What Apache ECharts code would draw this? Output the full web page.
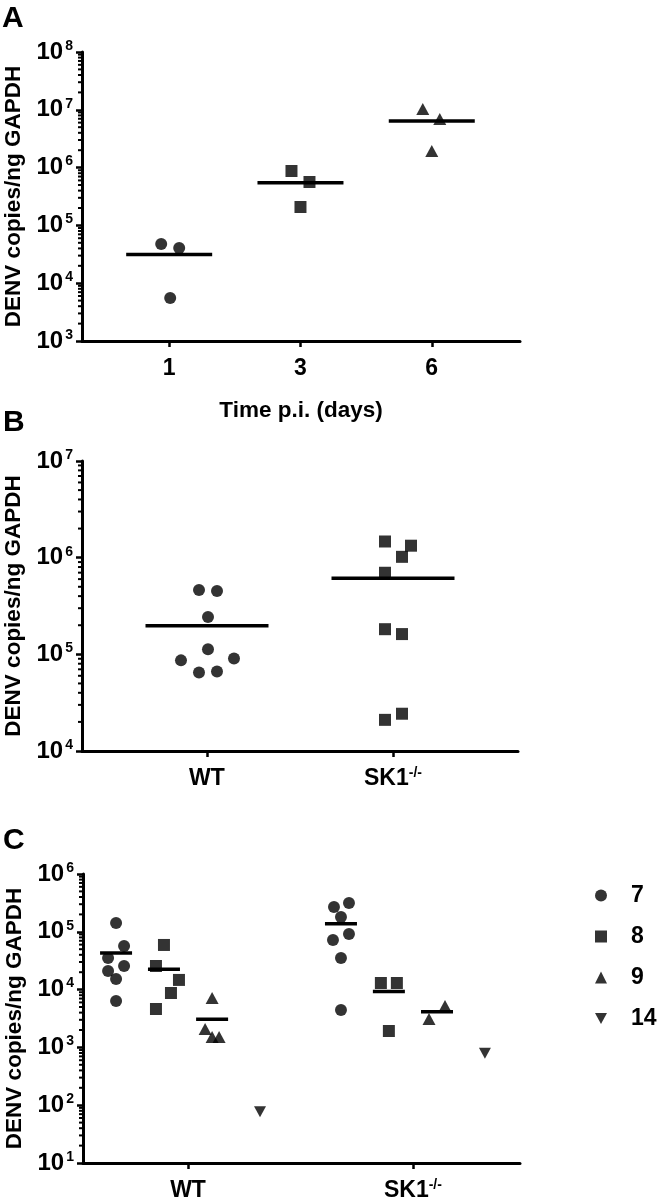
<!DOCTYPE html>
<html><head><meta charset="utf-8">
<script src="https://cdn.jsdelivr.net/npm/echarts@6/dist/echarts.min.js"></script>
<style>html,body{margin:0;padding:0;background:#fff}#c{width:660px;height:1200px}</style>
</head><body><div id="c"></div><script>
const FONT = '"Liberation Sans", Arial, sans-serif';

// ---------- Panel A: Time p.i. (days) ----------
const aCategories = ['1', '3', '6'];
const aDay1 = [47700, 40600, 5550];
const aDay3 = [873000, 564000, 208000];
const aDay6 = [10300000, 6940000, 1940000];

// ---------- Panel B: WT vs SK1-/- ----------
const bCategories = ['WT', 'SK1'];
const bWT = [464000, 453000, 243000, 113000, 86600, 90800, 64900, 66500];
const bSK1 = [1470000, 1330000, 1020000, 698000, 182000, 162000, 21000, 24300];

// ---------- Panel C: by day (7, 8, 9, 14) ----------
const cCategories = ['WT', 'SK1'];
const cDays = ['7', '8', '9', '14'];
const cWT7 = [142000, 56800, 35200, 25600, 21000, 15200, 6350];
const cWT8 = [59200, 25600, 14700, 8730, 4620];
const cWT9 = [7160, 2080, 1510, 1510];
const cWT14 = [77];
const cSK7 = [269000, 315000, 180000, 72100, 91600, 35200, 4440];
const cSK8 = [13000, 13000, 1920];
const cSK9 = [3100, 5200];
const cSK14 = [791];

// horizontal scatter (jitter) of individual points, in pixels
const jitA1 = [-8, 10, 1], jitA3 = [-9, 9, 0], jitA6 = [-9, 8, 0];
const jitBWT = [-8, 10, 1, 1, -26, 27, -8, 10];
const jitBSK = [-8, 18, 9, -8, -8, 9, -8, 9];
const jitCWT7 = [0, 8, -8, 8, -8, 0, 0];
const jitCWT8 = [0, -8, 15, 7, -8];
const jitCWT9 = [0, -7, 0, 7];
const jitCWT14 = [0];
const jitCSK7 = [-7, 8, 0, -8, 8, 0, 0];
const jitCSK8 = [-8, 8, 0];
const jitCSK9 = [-8, 8];
const jitCSK14 = [0];

const DOWN = 'path://M0,0L10,0L5,9Z';
const mean = a => a.reduce((s, v) => s + v, 0) / a.length;
const pts = (x, vals, jit) => vals.map((v, i) => ({ value: [x, v], symbolOffset: [jit[i], 0] }));

function yAxisFor(gi, min, max, split) {
  return {
    type: 'log', logBase: 10, gridIndex: gi, min: min, max: max, splitNumber: split,
    name: 'DENV copies/ng GAPDH', nameLocation: 'middle', nameGap: 52,
    nameTextStyle: { fontFamily: FONT, fontWeight: 'bold', fontSize: 22.5, color: '#000' },
    axisLine: { show: true, onZero: false, lineStyle: { color: '#000', width: 3 } },
    axisTick: { show: true, length: 6, lineStyle: { color: '#000', width: 2.5 } },
    splitLine: { show: false },
    axisLabel: {
      margin: 9,
      formatter: v => '{b|10}{s|' + Math.round(Math.log10(v)) + '}',
      rich: {
        b: { fontFamily: FONT, fontWeight: 'bold', fontSize: 24, color: '#000', lineHeight: 26 },
        s: { fontFamily: FONT, fontWeight: 'bold', fontSize: 14, color: '#000', verticalAlign: 'top', lineHeight: 15, padding: [0, 0, 0, 2] }
      }
    }
  };
}
function xAxisFor(gi, min, max, labels, extra) {
  return Object.assign({
    type: 'value', gridIndex: gi, min: min, max: max,
    axisLine: { show: true, onZero: false, lineStyle: { color: '#000', width: 3 } },
    axisTick: { show: true, length: 6, customValues: labels.map((_, i) => i), lineStyle: { color: '#000', width: 2.5 } },
    splitLine: { show: false },
    axisLabel: {
      margin: 15, customValues: labels.map((_, i) => i),
      formatter: v => {
        const l = labels[Math.round(v)];
        return l === 'SK1' ? '{b|SK1}{s|-/-}' : '{b|' + l + '}';
      },
      rich: {
        b: { fontFamily: FONT, fontWeight: 'bold', fontSize: 23, color: '#000', lineHeight: 26 },
        s: { fontFamily: FONT, fontWeight: 'bold', fontSize: 14, color: '#000', verticalAlign: 'top', lineHeight: 14 }
      }
    }
  }, extra || {});
}
function minorTickSeries(xi, yi, xMin, lowExp, highExp) {
  const data = [];
  for (let e = lowExp; e < highExp; e++) for (let m = 2; m <= 9; m++) data.push([xMin, m * Math.pow(10, e)]);
  return {
    type: 'custom', xAxisIndex: xi, yAxisIndex: yi, silent: true, clip: false, z: 5,
    data: data,
    renderItem: (params, api) => {
      const p = api.coord([api.value(0), api.value(1)]);
      return { type: 'line', shape: { x1: p[0] - 4, y1: p[1], x2: p[0], y2: p[1] }, style: { stroke: '#000', lineWidth: 2 } };
    }
  };
}
function meanLine(x, vals, w) {
  if (vals.length < 2) return [];
  return [{ value: [x, mean(vals)], symbolSize: [w, 3.5] }];
}
function scatter(name, xi, yi, symbol, size, data) {
  return { name: name, type: 'scatter', xAxisIndex: xi, yAxisIndex: yi, symbol: symbol, symbolSize: size,
    itemStyle: { color: '#000' }, data: data, z: 3, emphasis: { disabled: true } };
}
function meanSeries(xi, yi, data) {
  return { type: 'scatter', xAxisIndex: xi, yAxisIndex: yi, symbol: 'rect', itemStyle: { color: '#000', opacity: 1 },
    data: data, z: 4, silent: true };
}

// x offsets of the four day-groups within each panel-C category
const cGroupOff = [-0.32, -0.107, 0.107, 0.32];

const option = {
  animation: false,
  backgroundColor: '#fff',
  textStyle: { fontFamily: FONT },
  graphic: [
    { type: 'text', left: 2, top: 4, style: { text: 'A', font: 'bold 30px ' + FONT, fill: '#000' } },
    { type: 'text', left: 3, top: 408, style: { text: 'B', font: 'bold 30px ' + FONT, fill: '#000' } },
    { type: 'text', left: 3, top: 826, style: { text: 'C', font: 'bold 30px ' + FONT, fill: '#000' } }
  ],
  grid: [
    { left: 82, top: 52, width: 438, height: 289, outerBoundsMode: 'none', containLabel: false },
    { left: 82, top: 461, width: 436, height: 290, outerBoundsMode: 'none', containLabel: false },
    { left: 83, top: 874, width: 437, height: 289, outerBoundsMode: 'none', containLabel: false }
  ],
  xAxis: [
    xAxisFor(0, -0.664, 2.672, aCategories, {
      name: 'Time p.i. (days)', nameLocation: 'middle', nameGap: 58,
      nameTextStyle: { fontFamily: FONT, fontWeight: 'bold', fontSize: 22.5, color: '#000' }
    }),
    xAxisFor(1, -0.672, 1.672, bCategories),
    xAxisFor(2, -0.467, 1.476, cCategories)
  ],
  yAxis: [
    yAxisFor(0, 1e3, 1e8, 5),
    yAxisFor(1, 1e4, 1e7, 3),
    yAxisFor(2, 1e1, 1e6, 5)
  ],
  legend: {
    data: cDays, orient: 'vertical', left: 590, top: 878, itemWidth: 12, itemHeight: 12, itemGap: 16,
    selectedMode: false,
    textStyle: { fontFamily: FONT, fontWeight: 'bold', fontSize: 23, color: '#000', lineHeight: 25, padding: [0, 0, 0, 19] }
  },
  series: [
    minorTickSeries(0, 0, -0.664, 3, 8),
    minorTickSeries(1, 1, -0.672, 4, 7),
    minorTickSeries(2, 2, -0.467, 1, 6),
    // Panel A
    scatter('A1', 0, 0, 'circle', 12, pts(0, aDay1, jitA1)),
    scatter('A3', 0, 0, 'rect', 12, pts(1, aDay3, jitA3)),
    scatter('A6', 0, 0, 'triangle', [13, 12], pts(2, aDay6, jitA6)),
    meanSeries(0, 0, [].concat(meanLine(0, aDay1, 86), meanLine(1, aDay3, 86), meanLine(2, aDay6, 86))),
    // Panel B
    scatter('BWT', 1, 1, 'circle', 12, pts(0, bWT, jitBWT)),
    scatter('BSK', 1, 1, 'rect', 12, pts(1, bSK1, jitBSK)),
    meanSeries(1, 1, [].concat(meanLine(0, bWT, 123), meanLine(1, bSK1, 123))),
    // Panel C
    scatter('7', 2, 2, 'circle', 12, [].concat(pts(0 + cGroupOff[0], cWT7, jitCWT7), pts(1 + cGroupOff[0], cSK7, jitCSK7))),
    scatter('8', 2, 2, 'rect', 12, [].concat(pts(0 + cGroupOff[1], cWT8, jitCWT8), pts(1 + cGroupOff[1], cSK8, jitCSK8))),
    scatter('9', 2, 2, 'triangle', [13, 12], [].concat(pts(0 + cGroupOff[2], cWT9, jitCWT9), pts(1 + cGroupOff[2], cSK9, jitCSK9))),
    scatter('14', 2, 2, DOWN, [12, 11], [].concat(pts(0 + cGroupOff[3], cWT14, jitCWT14), pts(1 + cGroupOff[3], cSK14, jitCSK14))),
    meanSeries(2, 2, [].concat(
      meanLine(0 + cGroupOff[0], cWT7, 32), meanLine(0 + cGroupOff[1], cWT8, 32),
      meanLine(0 + cGroupOff[2], cWT9, 32), meanLine(0 + cGroupOff[3], cWT14, 32),
      meanLine(1 + cGroupOff[0], cSK7, 32), meanLine(1 + cGroupOff[1], cSK8, 32),
      meanLine(1 + cGroupOff[2], cSK9, 32), meanLine(1 + cGroupOff[3], cSK14, 32)))
  ]
};
const chart = echarts.init(document.getElementById('c'), null, { renderer: 'canvas' });
chart.setOption(option);
</script></body></html>
